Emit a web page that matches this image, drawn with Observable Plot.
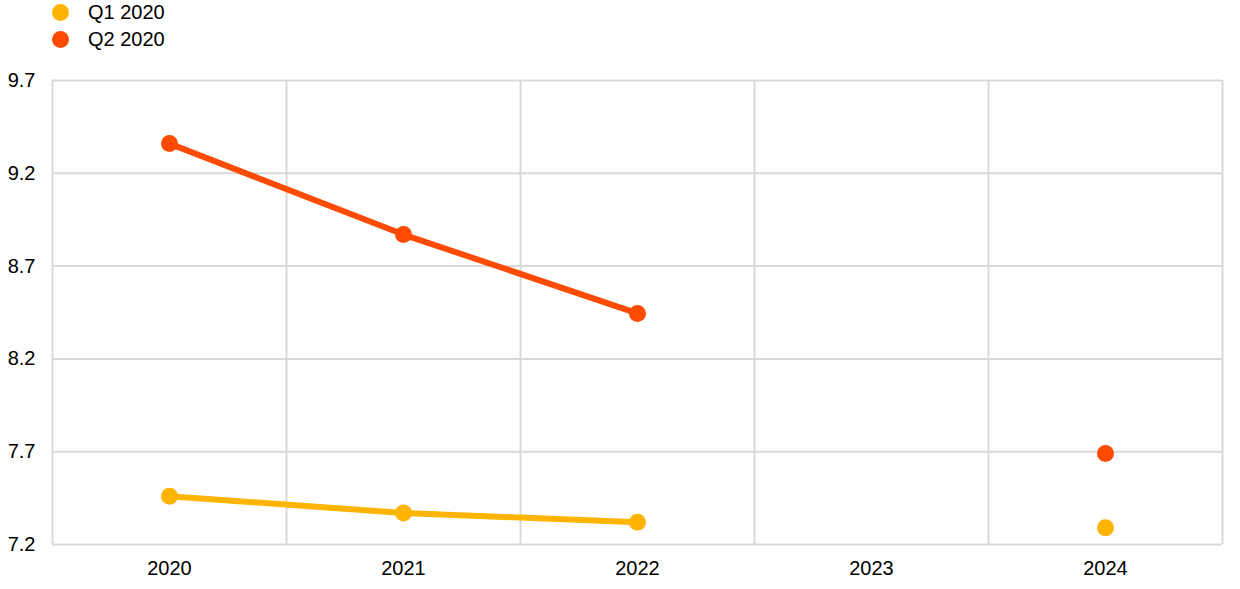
<!DOCTYPE html>
<html>
<head>
<meta charset="utf-8">
<script src="https://cdn.jsdelivr.net/npm/d3@7"></script>
<script src="https://cdn.jsdelivr.net/npm/@observablehq/plot@0.6"></script>
<style>
  html, body { margin: 0; padding: 0; background: #fff; }
  body { width: 1240px; height: 589px; overflow: hidden; font-family: "Liberation Sans", Arial, sans-serif; }
  #legend { height: 55px; position: relative; }
  .item { position: absolute; left: 52px; display: flex; align-items: center; font-size: 20px; color: #000; line-height: 22px; }
  .sw { width: 17px; height: 17px; border-radius: 50%; margin-right: 19px; }
</style>
</head>
<body>
<div id="legend"></div>
<div id="chart"></div>
<script>
const years = [2020, 2021, 2022, 2023, 2024];
const seriesNames = ["Q1 2020", "Q2 2020"];
const colors = ["#FFB400", "#FF4B00"];
const q1Values = [7.46, 7.37, 7.32, null, 7.29];
const q2Values = [9.36, 8.87, 8.445, null, 7.69];
const yTicks = [7.2, 7.7, 8.2, 8.7, 9.2, 9.7];

const allValues = [q1Values, q2Values];
const data = [];
seriesNames.forEach((s, i) => {
  years.forEach((y, j) => {
    data.push({series: s, year: y, value: allValues[i][j]});
  });
});
const valid = data.filter(d => d.value != null);

const boundaries = [years[0] - 0.5, ...years.map(y => y + 0.5)];

// Legend
const legend = document.getElementById("legend");
seriesNames.forEach((s, i) => {
  const div = document.createElement("div");
  div.className = "item";
  div.style.top = (i === 0 ? 1 : 28) + "px";
  div.innerHTML = `<span class="sw" style="background:${colors[i]}"></span><span>${s}</span>`;
  legend.appendChild(div);
});

const chart = Plot.plot({
  width: 1240,
  height: 534,
  marginTop: 25,
  marginBottom: 45,
  marginLeft: 52,
  marginRight: 18,
  style: {fontFamily: "'Liberation Sans', Arial, sans-serif", fontSize: "20px", color: "#000", background: "#fff"},
  x: {domain: [boundaries[0], boundaries[boundaries.length - 1]]},
  y: {domain: [yTicks[0], yTicks[yTicks.length - 1]]},
  color: {domain: seriesNames, range: colors},
  marks: [
    Plot.ruleY(yTicks, {stroke: "#d9d9d9", strokeWidth: 2}),
    Plot.ruleX(boundaries, {stroke: "#d9d9d9", strokeWidth: 2}),
    Plot.axisX(years, {tickSize: 0, tickPadding: 16, tickFormat: d => String(d), fontSize: 20, label: null}),
    Plot.axisY(yTicks, {tickSize: 0, tickPadding: 17, tickFormat: d => d.toFixed(1), fontSize: 20, label: null}),
    Plot.line(data, {x: "year", y: "value", z: "series", stroke: "series", strokeWidth: 6, defined: d => d.value != null}),
    Plot.dot(valid, {x: "year", y: "value", fill: "series", r: 8.5, stroke: null})
  ]
});
document.getElementById("chart").appendChild(chart);
</script>
</body>
</html>
